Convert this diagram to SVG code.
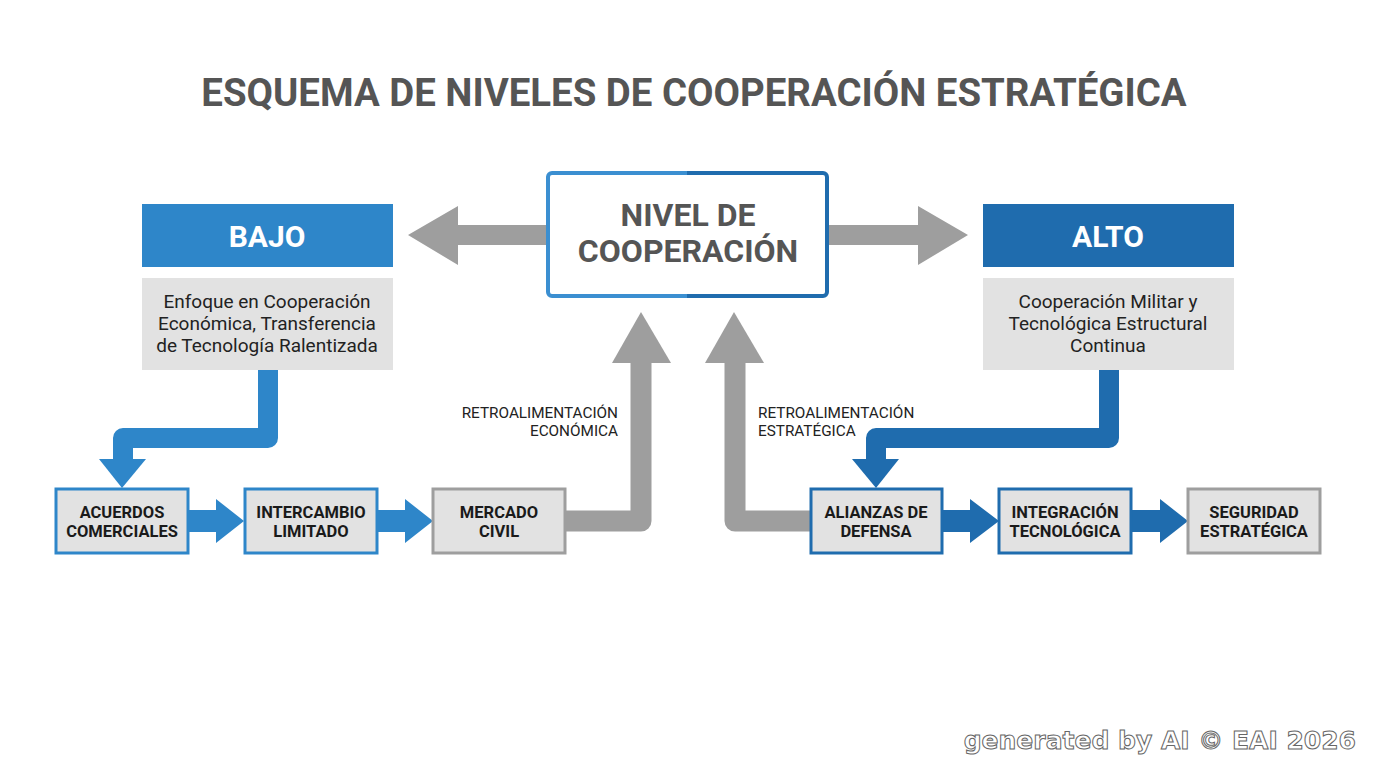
<svg xmlns="http://www.w3.org/2000/svg" width="1376" height="768" viewBox="0 0 1376 768">
<defs>
<linearGradient id="cg" x1="0" y1="0" x2="1" y2="0">
<stop offset="0" stop-color="#3b8fd1"/><stop offset="0.5" stop-color="#3b8fd1"/><stop offset="0.5" stop-color="#1f6cae"/><stop offset="1" stop-color="#1f6cae"/>
</linearGradient>
<style>
text{font-family:Roboto,"Liberation Sans",sans-serif}
.title{font-size:38.4px;font-weight:700;fill:#555555}
.hdr{font-size:30px;font-weight:700;fill:#ffffff}
.desc{font-size:19px;fill:#222222}
.center{font-size:32px;font-weight:700;fill:#555555}
.box{font-size:16.5px;font-weight:700;fill:#1a1a1a}
.lbl{font-size:15.3px;fill:#222222}
.b1{fill:#e2e2e2;stroke:#2e86c9;stroke-width:3}
.b2{fill:#e2e2e2;stroke:#1f6cae;stroke-width:3}
.bg{fill:#e2e2e2;stroke:#9e9e9e;stroke-width:3}
.gray{fill:#9e9e9e}
.gl{fill:none;stroke:#9e9e9e;stroke-width:21;stroke-linejoin:round}
.blue1{fill:#2e86c9}
.blue2{fill:#1f6cae}
.wm{font-family:"DejaVu Sans",sans-serif;font-size:25px;font-weight:700;fill:#ffffff;stroke:#666666;stroke-width:1}
</style>
</defs>
<rect width="1376" height="768" fill="#ffffff"/>
<text class="title" x="694" y="106" text-anchor="middle">ESQUEMA DE NIVELES DE COOPERACIÓN ESTRATÉGICA</text>

<g id="connectors">
<polygon class="gray" points="547,225 458,225 458,206 408,235 458,265 458,245 547,245"/>
<polygon class="gray" points="828,225 918,225 918,206 968,235 918,265 918,245 828,245"/>
<path d="M268,370 V438 H123 V460" fill="none" stroke="#2e86c9" stroke-width="20" stroke-linejoin="round"/>
<polygon class="blue1" points="99,459 146,459 122,488"/>
<path d="M1109,370 V438 H876 V460" fill="none" stroke="#1f6cae" stroke-width="20" stroke-linejoin="round"/>
<polygon class="blue2" points="852,459 899,459 876,488"/>
<polygon class="blue1" points="188,510 216,510 216,499 244,521 216,543 216,532 188,532"/>
<polygon class="blue1" points="377,510 405,510 405,499 433,521 405,543 405,532 377,532"/>
<polygon class="blue2" points="942,510 970,510 970,499 999,521 970,543 970,532 942,532"/>
<polygon class="blue2" points="1131,510 1160,510 1160,499 1188,521 1160,543 1160,532 1131,532"/>
<path d="M565,521 H641 V362" class="gl"/>
<polygon class="gray" points="612,363 671,363 641,312"/>
<path d="M811,521 H735 V362" class="gl"/>
<polygon class="gray" points="705,363 764,363 734,312"/>
<text class="lbl" x="618" y="418" text-anchor="end">RETROALIMENTACIÓN</text>
<text class="lbl" x="618" y="436" text-anchor="end">ECONÓMICA</text>
<text class="lbl" x="758" y="418">RETROALIMENTACIÓN</text>
<text class="lbl" x="758" y="436">ESTRATÉGICA</text>
</g>

<g id="center">
<rect x="548" y="173" width="279" height="123" rx="4" fill="#ffffff" stroke="url(#cg)" stroke-width="4"/>
<text class="center" x="688" y="226" text-anchor="middle">NIVEL DE</text>
<text class="center" x="688" y="262" text-anchor="middle">COOPERACIÓN</text>
</g>

<g id="bajo">
<rect x="142" y="204" width="251" height="63" fill="#2e86c9"/>
<text class="hdr" x="267" y="247" text-anchor="middle">BAJO</text>
</g>
<g id="bajo-desc">
<rect x="142" y="278" width="251" height="92" fill="#e2e2e2"/>
<text class="desc" x="267" y="308" text-anchor="middle">Enfoque en Cooperación</text>
<text class="desc" x="267" y="330" text-anchor="middle">Económica, Transferencia</text>
<text class="desc" x="267" y="352" text-anchor="middle">de Tecnología Ralentizada</text>
</g>

<g id="alto">
<rect x="983" y="204" width="251" height="63" fill="#1f6cae"/>
<text class="hdr" x="1108" y="247" text-anchor="middle">ALTO</text>
</g>
<g id="alto-desc">
<rect x="983" y="278" width="251" height="92" fill="#e2e2e2"/>
<text class="desc" x="1108" y="308" text-anchor="middle">Cooperación Militar y</text>
<text class="desc" x="1108" y="330" text-anchor="middle">Tecnológica Estructural</text>
<text class="desc" x="1108" y="352" text-anchor="middle">Continua</text>
</g>

<g id="acuerdos">
<rect class="b1" x="56" y="489" width="132" height="64"/>
<text class="box" x="122" y="518" text-anchor="middle">ACUERDOS</text>
<text class="box" x="122" y="537" text-anchor="middle">COMERCIALES</text>
</g>
<g id="intercambio">
<rect class="b1" x="245" y="489" width="132" height="64"/>
<text class="box" x="311" y="518" text-anchor="middle">INTERCAMBIO</text>
<text class="box" x="311" y="537" text-anchor="middle">LIMITADO</text>
</g>
<g id="mercado">
<rect class="bg" x="433" y="489" width="132" height="64"/>
<text class="box" x="499" y="518" text-anchor="middle">MERCADO</text>
<text class="box" x="499" y="537" text-anchor="middle">CIVIL</text>
</g>
<g id="alianzas">
<rect class="b2" x="811" y="489" width="131" height="64"/>
<text class="box" x="876" y="518" text-anchor="middle">ALIANZAS DE</text>
<text class="box" x="876" y="537" text-anchor="middle">DEFENSA</text>
</g>
<g id="integracion">
<rect class="b2" x="999" y="489" width="132" height="64"/>
<text class="box" x="1065" y="518" text-anchor="middle">INTEGRACIÓN</text>
<text class="box" x="1065" y="537" text-anchor="middle">TECNOLÓGICA</text>
</g>
<g id="seguridad">
<rect class="bg" x="1188" y="489" width="132" height="64"/>
<text class="box" x="1254" y="518" text-anchor="middle">SEGURIDAD</text>
<text class="box" x="1254" y="537" text-anchor="middle">ESTRATÉGICA</text>
</g>

<text class="wm" x="1356" y="749" text-anchor="end">generated by AI © EAI 2026</text>
</svg>
